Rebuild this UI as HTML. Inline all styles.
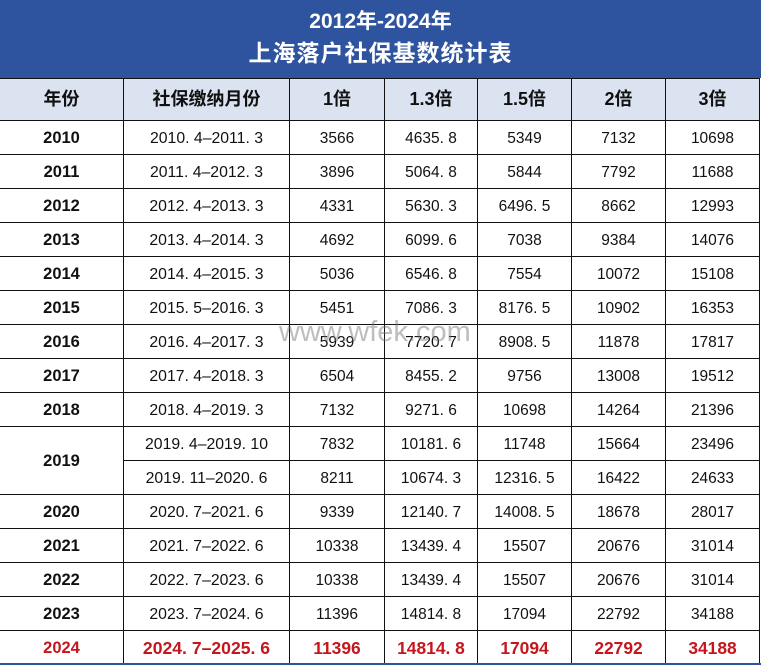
<!DOCTYPE html>
<html>
<head>
<meta charset="utf-8">
<style>
  html,body{margin:0;padding:0;}
  body{width:761px;height:665px;overflow:hidden;background:#fff;position:relative;
       font-family:"Liberation Sans","Noto Sans CJK SC",sans-serif;}
  .band{position:absolute;left:0;top:0;width:761px;height:78px;background:#2e539f;}
  .t1{position:absolute;left:0;width:761px;top:8px;height:28px;line-height:28px;text-align:center;
      color:#fff;font-weight:bold;font-size:21px;}
  .t2{position:absolute;left:0;width:761px;top:38px;height:30px;line-height:30px;text-align:center;
      color:#fff;font-weight:bold;font-size:23px;letter-spacing:1px;}
  table{position:absolute;left:0;top:78px;border-collapse:separate;border-spacing:0;border-top:1px solid #111;}
  td{padding:0;border-right:1px solid #111;border-bottom:1px solid #111;text-align:center;vertical-align:middle;
     font-family:"Liberation Sans","Noto Sans CJK SC",sans-serif;font-size:15.5px;color:#111;}
  td>div{height:33px;line-height:35px;white-space:pre;overflow:hidden;}
  td.m{font-size:15.8px;}
  tr.h td{background:#dbe3f1;font-weight:bold;font-size:18px;color:#111;}
  tr.h td>div{height:41px;line-height:41px;}
  td.y{font-weight:bold;font-size:16.5px;color:#111;}
  td.y>div{line-height:34px;}
  td.y2>div{height:67px;line-height:68px;}
  tr.r td{color:#c4161c;font-weight:bold;font-size:17.4px;}
  tr.r td.m{font-size:17.6px;}
  tr.r td.y{color:#c4161c;font-size:16.5px;}
  .wm{position:absolute;left:279px;top:318px;font-size:29px;line-height:29px;color:rgba(110,110,110,0.45);
      font-family:"Liberation Sans",sans-serif;white-space:nowrap;}
  .bl{position:absolute;left:0;top:663px;width:761px;height:2px;background:#2e539f;}
</style>
</head>
<body>
<div class="band"></div>
<div class="t1">2012年-2024年</div>
<div class="t2">上海落户社保基数统计表</div>

<table>
<tr class="h">
  <td><div style="width:123px">年份</div></td>
  <td><div style="width:165px">社保缴纳月份</div></td>
  <td><div style="width:94px">1倍</div></td>
  <td><div style="width:92px">1.3倍</div></td>
  <td><div style="width:93px">1.5倍</div></td>
  <td><div style="width:93px">2倍</div></td>
  <td><div style="width:93px">3倍</div></td>
</tr>
<tr><td class="y"><div>2010</div></td><td class="m"><div>2010. 4–2011. 3</div></td><td><div>3566</div></td><td><div>4635. 8</div></td><td><div>5349</div></td><td><div>7132</div></td><td><div>10698</div></td></tr>
<tr><td class="y"><div>2011</div></td><td class="m"><div>2011. 4–2012. 3</div></td><td><div>3896</div></td><td><div>5064. 8</div></td><td><div>5844</div></td><td><div>7792</div></td><td><div>11688</div></td></tr>
<tr><td class="y"><div>2012</div></td><td class="m"><div>2012. 4–2013. 3</div></td><td><div>4331</div></td><td><div>5630. 3</div></td><td><div>6496. 5</div></td><td><div>8662</div></td><td><div>12993</div></td></tr>
<tr><td class="y"><div>2013</div></td><td class="m"><div>2013. 4–2014. 3</div></td><td><div>4692</div></td><td><div>6099. 6</div></td><td><div>7038</div></td><td><div>9384</div></td><td><div>14076</div></td></tr>
<tr><td class="y"><div>2014</div></td><td class="m"><div>2014. 4–2015. 3</div></td><td><div>5036</div></td><td><div>6546. 8</div></td><td><div>7554</div></td><td><div>10072</div></td><td><div>15108</div></td></tr>
<tr><td class="y"><div>2015</div></td><td class="m"><div>2015. 5–2016. 3</div></td><td><div>5451</div></td><td><div>7086. 3</div></td><td><div>8176. 5</div></td><td><div>10902</div></td><td><div>16353</div></td></tr>
<tr><td class="y"><div>2016</div></td><td class="m"><div>2016. 4–2017. 3</div></td><td><div>5939</div></td><td><div>7720. 7</div></td><td><div>8908. 5</div></td><td><div>11878</div></td><td><div>17817</div></td></tr>
<tr><td class="y"><div>2017</div></td><td class="m"><div>2017. 4–2018. 3</div></td><td><div>6504</div></td><td><div>8455. 2</div></td><td><div>9756</div></td><td><div>13008</div></td><td><div>19512</div></td></tr>
<tr><td class="y"><div>2018</div></td><td class="m"><div>2018. 4–2019. 3</div></td><td><div>7132</div></td><td><div>9271. 6</div></td><td><div>10698</div></td><td><div>14264</div></td><td><div>21396</div></td></tr>
<tr><td class="y y2" rowspan="2"><div>2019</div></td><td class="m"><div>2019. 4–2019. 10</div></td><td><div>7832</div></td><td><div>10181. 6</div></td><td><div>11748</div></td><td><div>15664</div></td><td><div>23496</div></td></tr>
<tr><td class="m"><div>2019. 11–2020. 6</div></td><td><div>8211</div></td><td><div>10674. 3</div></td><td><div>12316. 5</div></td><td><div>16422</div></td><td><div>24633</div></td></tr>
<tr><td class="y"><div>2020</div></td><td class="m"><div>2020. 7–2021. 6</div></td><td><div>9339</div></td><td><div>12140. 7</div></td><td><div>14008. 5</div></td><td><div>18678</div></td><td><div>28017</div></td></tr>
<tr><td class="y"><div>2021</div></td><td class="m"><div>2021. 7–2022. 6</div></td><td><div>10338</div></td><td><div>13439. 4</div></td><td><div>15507</div></td><td><div>20676</div></td><td><div>31014</div></td></tr>
<tr><td class="y"><div>2022</div></td><td class="m"><div>2022. 7–2023. 6</div></td><td><div>10338</div></td><td><div>13439. 4</div></td><td><div>15507</div></td><td><div>20676</div></td><td><div>31014</div></td></tr>
<tr><td class="y"><div>2023</div></td><td class="m"><div>2023. 7–2024. 6</div></td><td><div>11396</div></td><td><div>14814. 8</div></td><td><div>17094</div></td><td><div>22792</div></td><td><div>34188</div></td></tr>
<tr class="r"><td class="y"><div>2024</div></td><td class="m"><div>2024. 7–2025. 6</div></td><td><div>11396</div></td><td><div>14814. 8</div></td><td><div>17094</div></td><td><div>22792</div></td><td><div>34188</div></td></tr>
</table>

<div class="wm">www.wfek.com</div>
<div class="bl"></div>
</body>
</html>
